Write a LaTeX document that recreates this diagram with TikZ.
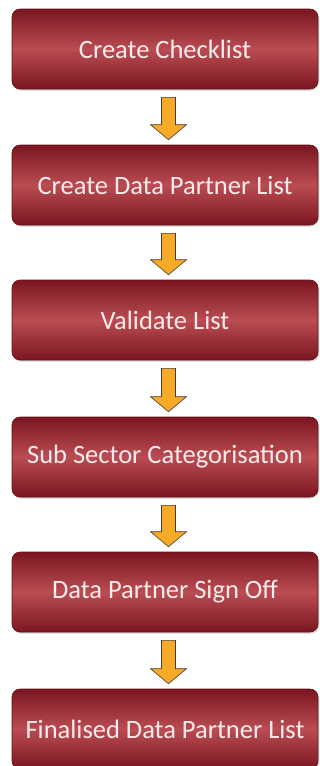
\documentclass[tikz,border=0pt]{standalone}
\usepackage{fontspec}
\setmainfont{Carlito}
\usetikzlibrary{calc,shadows}
\definecolor{boxdark}{RGB}{122,22,32}
\definecolor{boxmid}{RGB}{186,76,82}
\definecolor{boxline}{RGB}{105,15,25}
\definecolor{boxtext}{RGB}{250,236,236}
\definecolor{arrowfill}{RGB}{247,170,40}
\definecolor{arrowline}{RGB}{70,60,50}
\tikzset{
  stepbox/.style={rounded corners=8pt, minimum width=306pt, minimum height=80pt,
    top color=boxdark, bottom color=boxdark, middle color=boxmid,
    draw=boxline, line width=0.6pt, text=boxtext,
    font=\fontsize{26.5}{30}\selectfont, inner sep=0pt,
    drop shadow={shadow xshift=1pt, shadow yshift=-1.5pt, opacity=0.35}},
  blockarrow/.style={fill=arrowfill, draw=arrowline, line width=0.6pt, line join=miter}
}
\newcommand\blockarr[2]{%
  \draw[blockarrow] let \p1=($(#1.south)+(3.5,8)$), \p2=($(#2.north)+(3.5,-5)$) in
    (\x1-7pt,\y1) -- (\x1+7pt,\y1) -- (\x1+7pt,\y2+15pt) -- (\x1+18pt,\y2+15pt)
    -- (\x1,\y2) -- (\x1-18pt,\y2+15pt) -- (\x1-7pt,\y2+15pt) -- cycle;}
\begin{document}
\begin{tikzpicture}[x=1pt,y=-1pt]
\useasboundingbox[fill=white] (0,0) rectangle (320,766);
\node[stepbox] (s1) at (165,49) {Create Checklist};
\node[stepbox] (s2) at (165,185) {Create Data Partner List};
\node[stepbox] (s3) at (165,320) {Validate List};
\node[stepbox] (s4) at (165,457) {Sub Sector Categorisation};
\node[stepbox] (s5) at (165,592) {Data Partner Sign Off};
\node[stepbox] (s6) at (165,729) {Finalised Data Partner List};
\blockarr{s1}{s2}
\blockarr{s2}{s3}
\blockarr{s3}{s4}
\blockarr{s4}{s5}
\blockarr{s5}{s6}
\end{tikzpicture}
\end{document}
